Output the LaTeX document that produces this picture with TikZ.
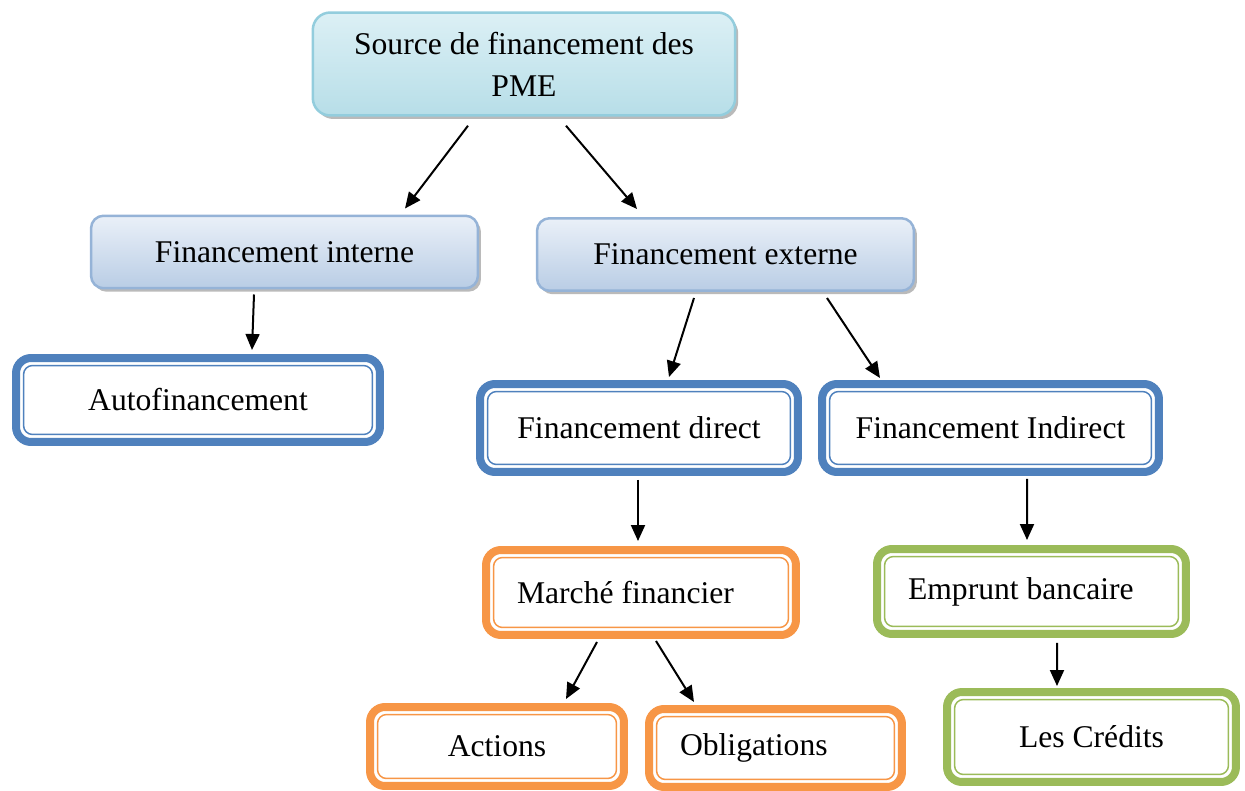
\documentclass[tikz,border=0pt]{standalone}
\usepackage{fontspec}
\setmainfont{Liberation Serif}
\usetikzlibrary{arrows.meta,shadows}

\definecolor{bleuF}{HTML}{4F81BD}
\definecolor{orangeF}{HTML}{F79646}
\definecolor{vertF}{HTML}{9BBB59}
\definecolor{cielB}{HTML}{93CDDD}
\definecolor{cielH}{HTML}{DCF0F5}
\definecolor{cielBas}{HTML}{B7DEE8}
\definecolor{grisB}{HTML}{95B3D7}
\definecolor{grisH}{HTML}{EAF0F8}
\definecolor{grisBas}{HTML}{B9CDE5}

\tikzset{
  boite/.style={font=\fontsize{18}{24}\selectfont, align=center},
  ombre/.style={drop shadow={shadow xshift=.06cm, shadow yshift=-.07cm, fill=black!45, opacity=.6}},
  topbox/.style={boite, draw=cielB, line width=.05cm, rounded corners=.35cm,
    top color=cielH, bottom color=cielBas, ombre},
  levelbox/.style={boite, draw=grisB, line width=.05cm, rounded corners=.25cm,
    top color=grisH, bottom color=grisBas, ombre, minimum height=1.45cm},
  dbox/.style={boite, draw=#1, line width=.16cm, rounded corners=.3cm, fill=white},
  leftbox/.style={align=flush left, inner xsep=0pt, text width=#1},
  arr/.style={-{Triangle[length=.32cm,width=.28cm]}, line width=.04cm},
}

\begin{document}
\begin{tikzpicture}[x=.02cm, y=-.02cm]
\useasboundingbox (0,0) rectangle (1245,791);

% boites
\node[topbox, minimum width=8.45cm, minimum height=2.06cm] (source) at (524,64) {Source de financement des\\PME};
\node[levelbox, minimum width=7.74cm] (interne) at (284.5,252) {Financement interne};
\node[levelbox, minimum width=7.54cm] (externe) at (725.5,254.5) {Financement externe};
\node[dbox=bleuF, minimum width=7.28cm, minimum height=1.68cm] (auto) at (198,400) {Autofinancement};
\node[dbox=bleuF, minimum width=6.36cm, minimum height=1.76cm] (direct) at (639,428) {Financement direct};
\node[dbox=bleuF, minimum width=6.74cm, minimum height=1.76cm] (indirect) at (990.5,428) {Financement Indirect};
\node[dbox=orangeF, leftbox=4.96cm, minimum width=6.2cm, minimum height=1.7cm] (marche) at (641,592.5) {Marché financier};
\node[dbox=vertF, leftbox=4.94cm, minimum width=6.18cm, minimum height=1.7cm] (emprunt) at (1031.5,591.5) {Emprunt bancaire};
\node[dbox=orangeF, minimum width=5.08cm, minimum height=1.58cm] (actions) at (497,746.5) {Actions};
\node[dbox=orangeF, leftbox=3.82cm, minimum width=5.06cm, minimum height=1.56cm] (oblig) at (775.5,748) {Obligations};
\node[dbox=vertF, minimum width=5.78cm, minimum height=1.8cm] (credits) at (1091.5,737) {Les Crédits};

% filet interieur
\foreach \n/\c in {auto/bleuF, direct/bleuF, indirect/bleuF, marche/orangeF, actions/orangeF, oblig/orangeF, emprunt/vertF, credits/vertF}
  \draw[\c, line width=.03cm, rounded corners=.18cm] ([shift={(11.5,11.5)}]\n.north west) rectangle ([shift={(-11.5,-11.5)}]\n.south east);

% fleches
\draw[arr] ([shift={(-56,9)}]source.south) -- ([shift={(120.5,-6)}]interne.north);
\draw[arr] ([shift={(42,9)}]source.south) -- ([shift={(-88.5,-8)}]externe.north);
\draw[arr] ([shift={(-30.5,5)}]interne.south) -- ([shift={(54,-4)}]auto.north);
\draw[arr] ([shift={(-31.5,6)}]externe.south) -- ([shift={(30,-3)}]direct.north);
\draw[arr] ([shift={(101.5,6)}]externe.south) -- ([shift={(-110.5,-2)}]indirect.north);
\draw[arr] ([shift={(-1,4)}]direct.south) -- ([shift={(-3,-5)}]marche.north);
\draw[arr] ([shift={(36.5,3)}]indirect.south) -- ([shift={(-4.5,-5)}]emprunt.north);
\draw[arr] ([shift={(-44,3)}]marche.south) -- ([shift={(69,-4)}]actions.north);
\draw[arr] ([shift={(15,2)}]marche.south) -- ([shift={(-81.5,-3)}]oblig.north);
\draw[arr] ([shift={(25.5,5)}]emprunt.south) -- ([shift={(-34.5,-2)}]credits.north);
\end{tikzpicture}
\end{document}
